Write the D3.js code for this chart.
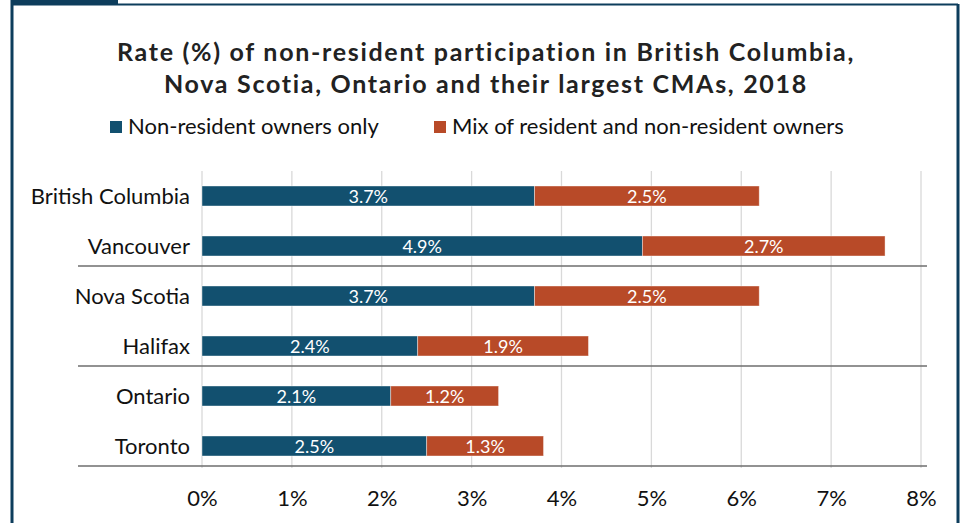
<!DOCTYPE html>
<html>
<head>
<meta charset="utf-8">
<script src="https://cdn.jsdelivr.net/npm/d3@7"></script>
<style>
  body { margin: 0; background: #fff; }
  svg { display: block; font-family: Lato, "Open Sans", sans-serif; }
</style>
</head>
<body>
<svg id="chart" width="961" height="523"></svg>
<script>
// data
var categories = ["British Columbia", "Vancouver", "Nova Scotia", "Halifax", "Ontario", "Toronto"];
var nonResidentOnly = [3.7, 4.9, 3.7, 2.4, 2.1, 2.5];
var mixedOwners = [2.5, 2.7, 2.5, 1.9, 1.2, 1.3];
var seriesNames = ["Non-resident owners only", "Mix of resident and non-resident owners"];
var tickValues = [0, 1, 2, 3, 4, 5, 6, 7, 8];

var colors = ["#12506f", "#b84a28"];
var navy = "#0d3d5c";

var svg = d3.select("#chart");

// frame round the figure
svg.append("rect").attr("x", 11).attr("y", 0).attr("width", 107).attr("height", 4).attr("fill", navy);
svg.append("line").attr("x1", 12).attr("x2", 958).attr("y1", 4.5).attr("y2", 4.5).attr("stroke", navy).attr("stroke-width", 2);
svg.append("line").attr("x1", 12).attr("x2", 12).attr("y1", 0).attr("y2", 523).attr("stroke", navy).attr("stroke-width", 3);
svg.append("line").attr("x1", 958).attr("x2", 958).attr("y1", 4).attr("y2", 523).attr("stroke", navy).attr("stroke-width", 3);

// title
var title = svg.append("text")
    .attr("text-anchor", "middle")
    .attr("font-weight", "bold")
    .attr("font-size", 25)
    .attr("letter-spacing", 1.7)
    .attr("fill", "#222");
title.append("tspan").attr("x", 486).attr("y", 61).text("Rate (%) of non-resident participation in British Columbia,");
title.append("tspan").attr("x", 486).attr("y", 93).text("Nova Scotia, Ontario and their largest CMAs, 2018");

// legend
var legendX = [110, 434];
seriesNames.forEach(function(name, i){
    var g = svg.append("g").attr("transform", "translate(" + legendX[i] + ",121)");
    g.append("rect").attr("width", 12).attr("height", 12).attr("fill", colors[i]);
    g.append("text").attr("x", 18).attr("y", 12.5).attr("font-size", 22).attr("fill", "#111").text(name);
});

var margin = {left: 202, right: 921, top: 171, bottom: 468};

var x = d3.scaleLinear()
    .domain([0, 8])
    .range([margin.left, margin.right]);

var y = d3.scaleBand()
    .domain(categories)
    .range([margin.top, margin.top + 50 * categories.length])
    .paddingInner(0.6)
    .paddingOuter(0.3);

// gridlines
svg.append("g").selectAll("line")
    .data(tickValues)
    .enter().append("line")
    .attr("x1", function(d) { return x(d); })
    .attr("x2", function(d) { return x(d); })
    .attr("y1", margin.top)
    .attr("y2", margin.bottom)
    .attr("stroke", "#d9d9d9")
    .attr("stroke-width", 1.3);

// stacked bars
var rows = categories.map(function(c, i){
    return {name: c, a: nonResidentOnly[i], b: mixedOwners[i]};
});

var segs = [];
rows.forEach(function(r){
    segs.push({name: r.name, x0: 0, x1: r.a, v: r.a, s: 0});
    segs.push({name: r.name, x0: r.a, x1: r.a + r.b, v: r.b, s: 1});
});

svg.append("g").selectAll("rect")
    .data(segs)
    .enter().append("rect")
    .attr("x", function(d) { return x(d.x0); })
    .attr("y", function(d) { return y(d.name); })
    .attr("width", function(d) { return x(d.x1) - x(d.x0); })
    .attr("height", y.bandwidth())
    .attr("fill", function(d) { return colors[d.s]; })
    .attr("stroke", "#fff")
    .attr("stroke-opacity", 0.5)
    .attr("stroke-width", 0.8);

svg.append("g").selectAll("text")
    .data(segs)
    .enter().append("text")
    .attr("x", function(d) { return (x(d.x0) + x(d.x1)) / 2; })
    .attr("y", function(d) { return y(d.name) + y.bandwidth() / 2 + 6.5; })
    .attr("text-anchor", "middle")
    .attr("font-size", 18)
    .attr("fill", "#fff")
    .text(function(d) { return d.v.toFixed(1) + "%"; });

// category labels
svg.append("g").selectAll("text")
    .data(categories)
    .enter().append("text")
    .attr("x", 190)
    .attr("y", function(d) { return y(d) + y.bandwidth() / 2 + 7.5; })
    .attr("text-anchor", "end")
    .attr("font-size", 22)
    .attr("fill", "#111")
    .text(function(d) { return d; });

// province separators and bottom axis line
var sepAfter = ["Vancouver", "Halifax", "Toronto"];
svg.append("g").selectAll("line")
    .data(sepAfter)
    .enter().append("line")
    .attr("x1", 78)
    .attr("x2", 927)
    .attr("y1", function(d) { return y(d) + y.bandwidth() + 10; })
    .attr("y2", function(d) { return y(d) + y.bandwidth() + 10; })
    .attr("stroke", "#6e6e6e")
    .attr("stroke-width", 1.5);

// x axis
var xAxis = d3.axisBottom(x)
    .tickValues(tickValues)
    .tickSize(0)
    .tickPadding(0)
    .tickFormat(function(d) { return d + "%"; });

var ax = svg.append("g")
    .attr("transform", "translate(0,490)")
    .call(xAxis);
ax.select(".domain").remove();
ax.selectAll("text")
    .attr("font-family", "Lato, 'Open Sans', sans-serif")
    .attr("font-size", 22)
    .attr("fill", "#111");
</script>
</body>
</html>
